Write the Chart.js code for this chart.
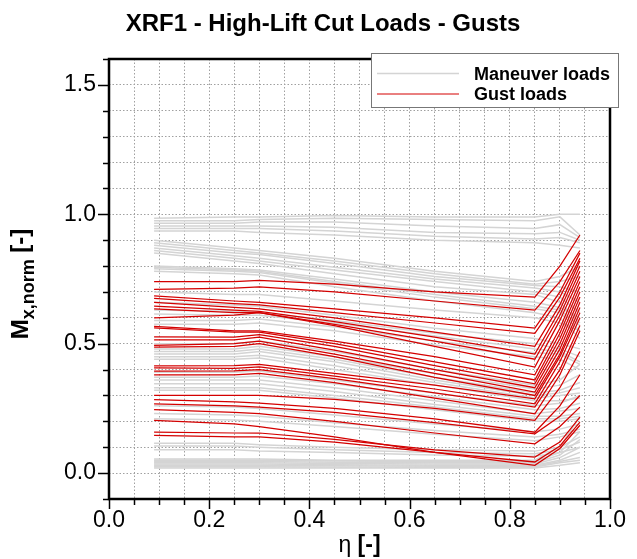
<!DOCTYPE html>
<html><head><meta charset="utf-8">
<script src="https://cdn.jsdelivr.net/npm/chart.js@4.4.0/dist/chart.umd.min.js"></script>
<style>html,body{margin:0;padding:0;background:#fff;}#wrap{width:637px;height:559px;}</style>
</head><body><div id="wrap"><canvas id="c" width="637" height="559"></canvas></div>
<script>
// ---- data ----
const eta = [0.09, 0.25, 0.30, 0.45, 0.65, 0.85, 0.90, 0.94];
const xTickLabels = ['0.0', '0.2', '0.4', '0.6', '0.8', '1.0'];
const yTickLabels = ['0.0', '0.5', '1.0', '1.5'];

// Maneuver loads (grey)
const m01 = [0.985, 0.99, 0.99, 0.995, 0.99, 0.99, 1.0, 1.0];
const m02 = [0.975, 0.975, 0.98, 0.985, 0.98, 0.975, 0.99, 0.92];
const m03 = [0.965, 0.965, 0.97, 0.97, 0.955, 0.945, 0.96, 0.91];
const m04 = [0.955, 0.955, 0.955, 0.95, 0.93, 0.925, 0.93, 0.90];
const m05 = [0.945, 0.945, 0.945, 0.935, 0.915, 0.905, 0.91, 0.89];
const m06 = [0.935, 0.935, 0.93, 0.92, 0.90, 0.89, 0.88, 0.87];
const m07 = [0.90, 0.87, 0.86, 0.83, 0.78, 0.74, 0.76, 0.80];
const m08 = [0.89, 0.86, 0.85, 0.82, 0.77, 0.73, 0.74, 0.76];
const m09 = [0.88, 0.85, 0.845, 0.81, 0.76, 0.725, 0.72, 0.70];
const m10 = [0.87, 0.84, 0.83, 0.795, 0.75, 0.715, 0.70, 0.66];
const m11 = [0.86, 0.83, 0.82, 0.785, 0.74, 0.70, 0.68, 0.62];
const m12 = [0.85, 0.82, 0.81, 0.77, 0.72, 0.69, 0.66, 0.58];
const m13 = [0.80, 0.79, 0.785, 0.75, 0.70, 0.66, 0.64, 0.60];
const m14 = [0.795, 0.785, 0.78, 0.74, 0.69, 0.645, 0.63, 0.57];
const m15 = [0.79, 0.78, 0.775, 0.735, 0.68, 0.635, 0.62, 0.55];
const m16 = [0.78, 0.77, 0.765, 0.72, 0.665, 0.62, 0.60, 0.52];
const m17 = [0.70, 0.69, 0.69, 0.665, 0.63, 0.60, 0.58, 0.55];
const m18 = [0.66, 0.65, 0.645, 0.61, 0.56, 0.52, 0.50, 0.48];
const m19 = [0.63, 0.625, 0.62, 0.59, 0.54, 0.50, 0.48, 0.45];
const m20 = [0.615, 0.61, 0.61, 0.58, 0.53, 0.48, 0.47, 0.43];
const m21 = [0.59, 0.59, 0.595, 0.565, 0.51, 0.465, 0.46, 0.42];
const m22 = [0.575, 0.575, 0.58, 0.55, 0.495, 0.45, 0.44, 0.40];
const m23 = [0.50, 0.50, 0.51, 0.47, 0.40, 0.34, 0.36, 0.42];
const m24 = [0.48, 0.48, 0.49, 0.45, 0.385, 0.325, 0.34, 0.38];
const m25 = [0.47, 0.47, 0.48, 0.44, 0.37, 0.31, 0.32, 0.35];
const m26 = [0.46, 0.46, 0.47, 0.43, 0.36, 0.30, 0.31, 0.33];
const m27 = [0.45, 0.45, 0.455, 0.415, 0.35, 0.29, 0.30, 0.31];
const m28 = [0.44, 0.44, 0.445, 0.40, 0.34, 0.28, 0.28, 0.29];
const m29 = [0.39, 0.39, 0.395, 0.36, 0.31, 0.26, 0.27, 0.30];
const m30 = [0.37, 0.37, 0.375, 0.345, 0.295, 0.245, 0.25, 0.27];
const m31 = [0.36, 0.36, 0.36, 0.33, 0.28, 0.23, 0.24, 0.25];
const m32 = [0.345, 0.345, 0.345, 0.315, 0.265, 0.22, 0.22, 0.23];
const m33 = [0.33, 0.33, 0.33, 0.30, 0.255, 0.21, 0.21, 0.22];
const m34 = [0.32, 0.32, 0.32, 0.29, 0.245, 0.20, 0.20, 0.21];
const m35 = [0.26, 0.255, 0.25, 0.225, 0.19, 0.16, 0.17, 0.19];
const m36 = [0.23, 0.225, 0.22, 0.195, 0.165, 0.14, 0.15, 0.17];
const m37 = [0.21, 0.205, 0.20, 0.18, 0.15, 0.125, 0.14, 0.16];
const m38 = [0.115, 0.115, 0.11, 0.10, 0.09, 0.085, 0.10, 0.14];
const m39 = [0.105, 0.105, 0.10, 0.09, 0.08, 0.075, 0.09, 0.12];
const m40 = [0.09, 0.09, 0.085, 0.08, 0.07, 0.065, 0.08, 0.10];
const m41 = [0.055, 0.055, 0.055, 0.05, 0.05, 0.05, 0.10, 0.22];
const m42 = [0.05, 0.05, 0.05, 0.047, 0.045, 0.045, 0.08, 0.16];
const m43 = [0.045, 0.045, 0.045, 0.042, 0.04, 0.04, 0.07, 0.13];
const m44 = [0.04, 0.04, 0.04, 0.037, 0.035, 0.035, 0.06, 0.10];
const m45 = [0.035, 0.035, 0.035, 0.032, 0.03, 0.03, 0.05, 0.08];
const m46 = [0.03, 0.03, 0.03, 0.028, 0.027, 0.027, 0.045, 0.06];
const m47 = [0.025, 0.025, 0.025, 0.024, 0.023, 0.024, 0.04, 0.05];
const m48 = [0.02, 0.02, 0.02, 0.02, 0.02, 0.02, 0.03, 0.04];

// Gust loads (red)
const g01 = [0.74, 0.74, 0.745, 0.73, 0.70, 0.68, 0.80, 0.92];
const g02 = [0.71, 0.715, 0.72, 0.70, 0.665, 0.63, 0.74, 0.86];
const g03 = [0.685, 0.665, 0.66, 0.635, 0.60, 0.56, 0.70, 0.85];
const g04 = [0.675, 0.655, 0.65, 0.62, 0.58, 0.54, 0.68, 0.83];
const g05 = [0.66, 0.64, 0.635, 0.60, 0.545, 0.49, 0.65, 0.82];
const g06 = [0.645, 0.63, 0.625, 0.585, 0.525, 0.46, 0.63, 0.80];
const g07 = [0.635, 0.62, 0.62, 0.575, 0.51, 0.44, 0.61, 0.78];
const g08 = [0.60, 0.61, 0.62, 0.57, 0.49, 0.41, 0.59, 0.76];
const g09 = [0.567, 0.55, 0.55, 0.51, 0.45, 0.38, 0.56, 0.74];
const g10 = [0.561, 0.545, 0.545, 0.50, 0.43, 0.36, 0.54, 0.72];
const g11 = [0.526, 0.525, 0.535, 0.49, 0.415, 0.345, 0.52, 0.70];
const g12 = [0.515, 0.515, 0.525, 0.475, 0.40, 0.33, 0.50, 0.68];
const g13 = [0.494, 0.50, 0.51, 0.46, 0.385, 0.313, 0.48, 0.66];
const g14 = [0.487, 0.49, 0.50, 0.45, 0.37, 0.30, 0.46, 0.64];
const g15 = [0.414, 0.415, 0.42, 0.385, 0.34, 0.287, 0.45, 0.62];
const g16 = [0.407, 0.405, 0.41, 0.375, 0.325, 0.268, 0.43, 0.60];
const g17 = [0.394, 0.395, 0.40, 0.365, 0.31, 0.255, 0.40, 0.57];
const g18 = [0.380, 0.38, 0.385, 0.35, 0.29, 0.229, 0.38, 0.55];
const g19 = [0.300, 0.30, 0.30, 0.285, 0.25, 0.204, 0.33, 0.47];
const g20 = [0.284, 0.275, 0.27, 0.25, 0.21, 0.158, 0.26, 0.38];
const g21 = [0.268, 0.26, 0.255, 0.235, 0.195, 0.152, 0.22, 0.30];
const g22 = [0.245, 0.235, 0.23, 0.20, 0.155, 0.113, 0.18, 0.255];
const g23 = [0.204, 0.19, 0.18, 0.14, 0.08, 0.03, 0.095, 0.185];
const g24 = [0.158, 0.155, 0.155, 0.13, 0.09, 0.062, 0.12, 0.216];
const g25 = [0.146, 0.14, 0.14, 0.12, 0.08, 0.043, 0.105, 0.197];

const maneuverSeries = [m01,m02,m03,m04,m05,m06,m07,m08,m09,m10,m11,m12,m13,m14,m15,m16,m17,m18,m19,m20,m21,m22,m23,m24,m25,m26,m27,m28,m29,m30,m31,m32,m33,m34,m35,m36,m37,m38,m39,m40,m41,m42,m43,m44,m45,m46,m47,m48];
const gustSeries = [g01,g02,g03,g04,g05,g06,g07,g08,g09,g10,g11,g12,g13,g14,g15,g16,g17,g18,g19,g20,g21,g22,g23,g24,g25];

// ---- styles ----
const GREY = '#d4d4d4';
const RED = '#d40000';
const FONT = '"Liberation Sans", Arial, Helvetica, sans-serif';

const toPts = vals => vals.map((v, i) => ({x: eta[i], y: v}));
const datasets = [];
maneuverSeries.forEach(s => datasets.push({label: 'Maneuver loads', data: toPts(s), borderColor: GREY, borderWidth: 1.5, pointRadius: 0, tension: 0, order: 1}));
gustSeries.forEach(s => datasets.push({label: 'Gust loads', data: toPts(s), borderColor: RED, borderWidth: 1.25, pointRadius: 0, tension: 0, order: 0}));

function near(v, step) { return Math.abs(v / step - Math.round(v / step)) < 1e-6; }

const deco = {
  id: 'deco',
  afterDraw(chart) {
    const ctx = chart.ctx, a = chart.chartArea;
    const xs = chart.scales.x, ys = chart.scales.y;
    ctx.save();
    // tick marks
    ctx.strokeStyle = '#000'; ctx.lineWidth = 1.5;
    xs.ticks.forEach(t => {
      const p = Math.round(xs.getPixelForValue(t.value)) + 0.5;
      const len = near(t.value, 0.2) ? 10 : 6;
      ctx.beginPath(); ctx.moveTo(p, a.bottom); ctx.lineTo(p, a.bottom + len); ctx.stroke();
    });
    ys.ticks.forEach(t => {
      const p = Math.round(ys.getPixelForValue(t.value)) + 0.5;
      const len = near(t.value, 0.5) ? 11 : 6;
      ctx.beginPath(); ctx.moveTo(a.left, p); ctx.lineTo(a.left - len, p); ctx.stroke();
    });
    // frame
    ctx.lineWidth = 2.5;
    ctx.strokeRect(a.left, a.top, a.right - a.left, a.bottom - a.top);
    // title
    ctx.fillStyle = '#000';
    ctx.textAlign = 'center'; ctx.textBaseline = 'alphabetic';
    ctx.font = 'bold 24px ' + FONT;
    ctx.fillText('XRF1 - High-Lift Cut Loads - Gusts', 323, 31);
    // x axis title
    ctx.textAlign = 'left';
    const fEta = '23px ' + FONT, fB = 'bold 23px ' + FONT;
    ctx.font = fEta; const w1 = ctx.measureText('η ').width;
    ctx.font = fB; const w2 = ctx.measureText('[-]').width;
    let x0 = (a.left + a.right) / 2 - (w1 + w2) / 2;
    ctx.font = fEta; ctx.fillText('η ', x0, 552);
    ctx.font = fB; ctx.fillText('[-]', x0 + w1, 552);
    // y axis title
    ctx.save();
    ctx.translate(20, (a.top + a.bottom) / 2 + 5);
    ctx.rotate(-Math.PI / 2);
    const fM = 'bold 24px ' + FONT, fS = 'bold 18px ' + FONT;
    ctx.font = fM; const wm = ctx.measureText('M').width; const wb = ctx.measureText(' [-]').width;
    ctx.font = fS; const ws = ctx.measureText('x,norm').width;
    let s0 = -(wm + ws + wb) / 2;
    ctx.font = fM; ctx.fillText('M', s0, 8);
    ctx.font = fS; ctx.fillText('x,norm', s0 + wm, 14);
    ctx.font = fM; ctx.fillText(' [-]', s0 + wm + ws, 8);
    ctx.restore();
    // legend
    ctx.fillStyle = '#fff';
    ctx.fillRect(371.5, 53.5, 247, 54);
    ctx.strokeStyle = '#777'; ctx.lineWidth = 1;
    ctx.strokeRect(371.5, 53.5, 247, 54);
    ctx.lineWidth = 1.5; ctx.strokeStyle = GREY;
    ctx.beginPath(); ctx.moveTo(377, 73.5); ctx.lineTo(459, 73.5); ctx.stroke();
    ctx.lineWidth = 1; ctx.strokeStyle = RED;
    ctx.beginPath(); ctx.moveTo(377, 94); ctx.lineTo(459, 94); ctx.stroke();
    ctx.fillStyle = '#000'; ctx.font = 'bold 18px ' + FONT; ctx.textAlign = 'left';
    ctx.fillText('Maneuver loads', 474, 80);
    ctx.fillText('Gust loads', 474, 100);
    ctx.restore();
  }
};

new Chart(document.getElementById('c'), {
  type: 'line',
  data: {datasets},
  options: {
    responsive: false, animation: false, devicePixelRatio: 1,
    layout: {padding: {left: 0, right: 27, top: 59, bottom: 0}},
    plugins: {legend: {display: false}, tooltip: {enabled: false}, title: {display: false}},
    scales: {
      x: {
        type: 'linear', min: 0, max: 1,
        afterFit: s => { s.height = 60; },
        ticks: {stepSize: 0.05, autoSkip: false, maxRotation: 0, padding: 8, color: '#000',
          font: {family: FONT, size: 23},
          callback: v => near(v, 0.2) ? xTickLabels[Math.round(v / 0.2)] : ''},
        grid: {color: '#a0a0a0', lineWidth: 1, drawTicks: false},
        border: {display: false, dash: [1.5, 2]}
      },
      y: {
        type: 'linear', min: -0.1, max: 1.6,
        afterFit: s => { s.width = 109; },
        ticks: {stepSize: 0.1, autoSkip: false, padding: 13, color: '#000',
          font: {family: FONT, size: 23},
          callback: v => (near(v, 0.5) && v > -0.01) ? yTickLabels[Math.round(v / 0.5)] : ''},
        grid: {color: '#a0a0a0', lineWidth: 1, drawTicks: false},
        border: {display: false, dash: [1.5, 2]}
      }
    }
  },
  plugins: [deco]
});
</script></body></html>
